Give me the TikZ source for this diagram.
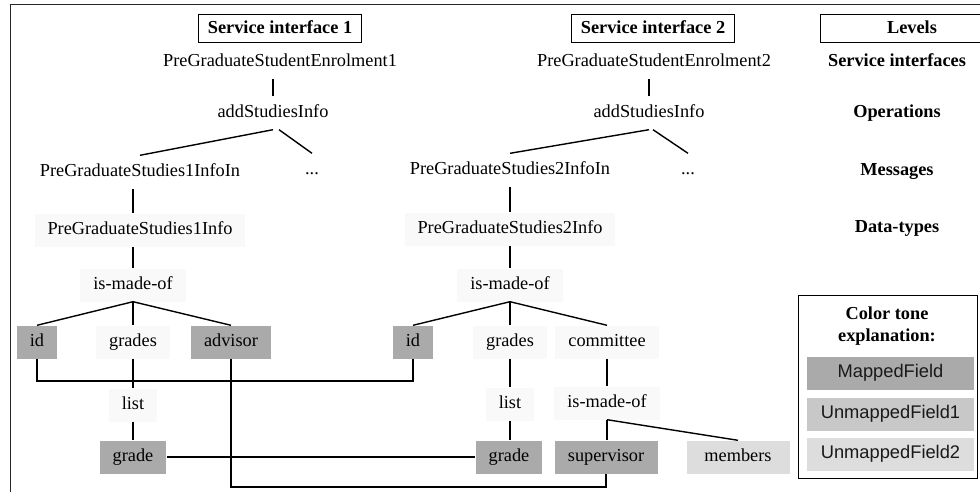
\documentclass[tikz,border=0pt]{standalone}
\usepackage{fontspec}
\setmainfont{Liberation Serif}
\setsansfont{Liberation Sans}
\definecolor{mapped}{RGB}{170,170,170}
\definecolor{unmapA}{RGB}{200,200,200}
\definecolor{unmapB}{RGB}{221,221,221}
\definecolor{faint}{RGB}{249,249,249}
\begin{document}
\begin{tikzpicture}[x=1pt,y=-1pt,
  every node/.style={font=\fontsize{18.3}{22}\selectfont, inner sep=0pt, inner xsep=13pt, minimum height=33pt, text height=12.5pt, text depth=4pt},
  faintbox/.style={fill=faint},
  mapbox/.style={fill=mapped},
  hdr/.style={draw, line width=1pt, font=\fontsize{18.3}{22}\selectfont\bfseries, minimum height=28pt, inner xsep=9.5pt},
  lvl/.style={font=\fontsize{18.3}{22}\selectfont\bfseries},
  conn/.style={line width=1.4pt},
  legitem/.style={font=\fontsize{18.3}{22}\selectfont\sffamily, minimum width=167pt, minimum height=33pt, text=black!90}
]
\useasboundingbox (0,0) rectangle (980,492);
\clip (0,0) rectangle (980,492);
\draw[line width=1pt, black!85] (10.5,4.5) rectangle (1000,520);

% headers
\node[hdr] (si1) at (280,29) {Service interface 1};
\node[hdr] (si2) at (653,29) {Service interface 2};
\node[hdr, minimum width=184pt] (lev) at (912,29) {Levels};
\node[lvl] (l1) at (897,62) {Service interfaces};
\node[lvl] (l2) at (897,113) {Operations};
\node[lvl] (l3) at (897,171) {Messages};
\node[lvl] (l4) at (897,228) {Data-types};

% tree 1
\node (enrol1) at (280,62) {PreGraduateStudentEnrolment1};
\node (asi1) at (273,113) {addStudiesInfo};
\node (in1) at (140,172) {PreGraduateStudies1InfoIn};
\node (dots1) at (312,170) {...};
\node[faintbox] (info1) at (140,230) {PreGraduateStudies1Info};
\node[faintbox] (imo1) at (133,285) {is-made-of};
\node[mapbox] (id1) at (37,342) {id};
\node[faintbox] (gr1) at (133,342) {grades};
\node[mapbox] (adv) at (231,342) {advisor};
\node[faintbox] (list1) at (133,405) {list};
\node[mapbox] (grade1) at (133,457) {grade};

% tree 2
\node (enrol2) at (654,62) {PreGraduateStudentEnrolment2};
\node (asi2) at (649,113) {addStudiesInfo};
\node (in2) at (510,170) {PreGraduateStudies2InfoIn};
\node (dots2) at (688,170) {...};
\node[faintbox] (info2) at (510,229) {PreGraduateStudies2Info};
\node[faintbox] (imo2) at (510,285) {is-made-of};
\node[mapbox] (id2) at (413,342) {id};
\node[faintbox] (gr2) at (510,342) {grades};
\node[faintbox] (com) at (607,342) {committee};
\node[faintbox] (list2) at (510,404) {list};
\node[faintbox] (imo3) at (607,403) {is-made-of};
\node[mapbox] (grade2) at (509,457) {grade};
\node[mapbox, minimum width=103pt] (sup) at (606,457) {supervisor};
\node[fill=unmapB, minimum width=103pt] (mem) at (738,457) {members};

% connectors tree 1
\draw[conn] (asi1.north) -- (asi1.north |- enrol1.south);
\draw[conn] (asi1.south) -- (in1.north);
\draw[conn] ([xshift=6pt]asi1.south) -- (dots1.north);
\draw[conn] (info1.north -| imo1) -- (in1.south -| imo1);
\draw[conn] (imo1.north) -- (imo1.north |- info1.south);
\draw[conn] (imo1.south) -- (id1.north);
\draw[conn] (imo1.south) -- (gr1.north);
\draw[conn] (imo1.south) -- (adv.north);
\draw[conn] (gr1.south) -- (list1.north);
\draw[conn] (list1.south) -- (grade1.north);
\coordinate (idlink) at (0,381);
\draw[conn] (id1.south) -- (id1.south |- idlink) -| (id2.south);
\draw[conn] (grade1.east) -- (grade2.west);
\coordinate (advlink) at (0,487);
\draw[conn] (adv.south) -- (adv.south |- advlink) -| (sup.south);

% connectors tree 2
\draw[conn] (asi2.north) -- (asi2.north |- enrol2.south);
\draw[conn] (asi2.south) -- (in2.north);
\draw[conn] ([xshift=4pt]asi2.south) -- (dots2.north);
\draw[conn] (in2.south) -- (info2.north);
\draw[conn] (info2.south) -- (imo2.north);
\draw[conn] (imo2.south) -- (id2.north);
\draw[conn] (imo2.south) -- (gr2.north);
\draw[conn] (imo2.south) -- (com.north);
\draw[conn] (gr2.south) -- (list2.north);
\draw[conn] (list2.south) -- (grade2.north -| list2);
\draw[conn] (com.south) -- (imo3.north);
\draw[conn] (imo3.south) -- (sup.north -| imo3);
\draw[conn] (imo3.south) -- (mem.north);

% legend
\node[draw, line width=1pt, minimum width=179pt, minimum height=183pt, inner sep=0pt] (leg) at (887.5,386.5) {};
\node[lvl] (legt1) at (887,315) {Color tone};
\node[lvl] (legt2) at (887,337) {explanation:};
\node[legitem, fill=mapped] (lm) at (890.5,373.5) {MappedField};
\node[legitem, fill=unmapA] (lu1) at (890.5,414.5) {UnmappedField1};
\node[legitem, fill=unmapB] (lu2) at (890.5,454.5) {UnmappedField2};
\end{tikzpicture}
\end{document}
